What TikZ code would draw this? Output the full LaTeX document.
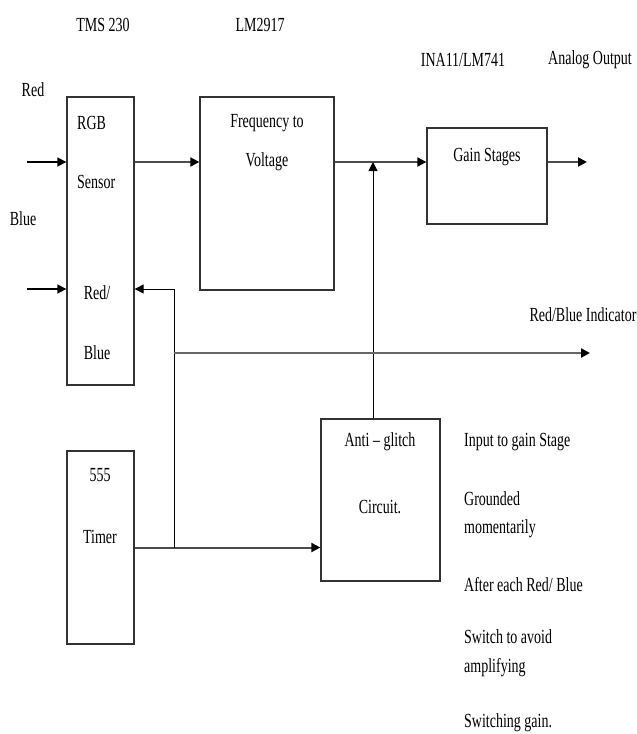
\documentclass[tikz,border=0pt]{standalone}
\usepackage{fontspec}
\setmainfont[FakeStretch=0.7]{Liberation Serif}
\usetikzlibrary{arrows.meta}
\begin{document}
\begin{tikzpicture}[x=1pt,y=-1pt,
  box/.style={draw=black!80,line width=1.3pt,inner sep=0pt},
  lbl/.style={font=\fontsize{20}{22}\selectfont,inner sep=0pt},
  lbll/.style={lbl,anchor=west},
  tip/.style={-{Triangle[length=9pt,width=9pt,color=black]}},
  thick line/.style={tip,draw=black!70,line width=2pt},
  thin line/.style={draw=black,line width=1pt},
  ]
\useasboundingbox (0,0) rectangle (637,734);
% boxes
\node[box,minimum width=67pt,minimum height=288pt] (rgb) at (100.5,241) {};
\node[box,minimum width=134pt,minimum height=193pt] (freq) at (267,193.5) {};
\node[box,minimum width=120pt,minimum height=96pt] (gain) at (487,176) {};
\node[box,minimum width=67pt,minimum height=193pt] (timer) at (100.5,547.5) {};
\node[box,minimum width=119pt,minimum height=162pt] (anti) at (380.5,500) {};
% box texts
\node[lbll] (trgb) at (77,123) {RGB};
\node[lbll] (tsensor) at (77,182) {Sensor};
\node[lbl] (tred) at (97,293) {Red/};
\node[lbl] (tblue) at (97,353) {Blue};
\node[lbl] (tfreq) at (267,123) {Frequency to};
\node[lbl] (tvolt) at (267,162) {Voltage};
\node[lbl] (tgain) at (487,157) {Gain Stages};
\node[lbl] (t555) at (100,475) {555};
\node[lbl] (ttimer) at (100,537) {Timer};
\node[lbl] (tanti) at (380,442) {Anti -- glitch};
\node[lbl] (tcirc) at (380,507) {Circuit.};
% outside labels
\node[lbl] (tms) at (103,25) {TMS 230};
\node[lbl] (lm) at (260,25) {LM2917};
\node[lbl] (ina) at (463,60) {INA11/LM741};
\node[lbl] (aout) at (590,60) {Analog Output};
\node[lbl] (lred) at (33,90) {Red};
\node[lbl] (lblue) at (23,219) {Blue};
\node[lbl] (lind) at (583,315) {Red/Blue Indicator};
\node[lbll] (n1) at (464,442) {Input to gain Stage};
\node[lbll] (n2) at (464,499) {Grounded};
\node[lbll] (n3) at (464,529) {momentarily};
\node[lbll] (n4) at (464,585) {After each Red/ Blue};
\node[lbll] (n5) at (464,637) {Switch to avoid};
\node[lbll] (n6) at (464,668) {amplifying};
\node[lbll] (n7) at (464,723) {Switching gain.};
% coordinates
\coordinate (redin) at (27,162);
\coordinate (bluein) at (27,289);
\coordinate (outend) at (587,162);
\coordinate (jn) at (373,162);
\coordinate (fb) at (174,289);
\coordinate (tl) at (174,547.5);
\coordinate (ind) at (174,353);
\coordinate (indend) at (590,353);
% connectors
\draw[tip,thin line,line width=1.5pt] (redin) -- (redin -| rgb.west);
\draw[tip,thin line,line width=1.5pt] (bluein) -- (bluein -| rgb.west);
\draw[thick line] (rgb.east |- redin) -- (freq.west |- redin);
\draw[thick line] (freq.east |- redin) -- (gain.west |- redin);
\draw[thick line] (gain.east |- redin) -- (outend);
\draw[tip,thin line] (anti.north -| jn) -- (jn);
\draw[thick line] (timer.east |- tl) -- (anti.west |- tl);
\draw[tip,thin line] (tl) -- (fb) -- (rgb.east |- fb);
\draw[thick line,line width=2.4pt,draw=black!60] (ind) -- (indend);
\end{tikzpicture}
\end{document}
